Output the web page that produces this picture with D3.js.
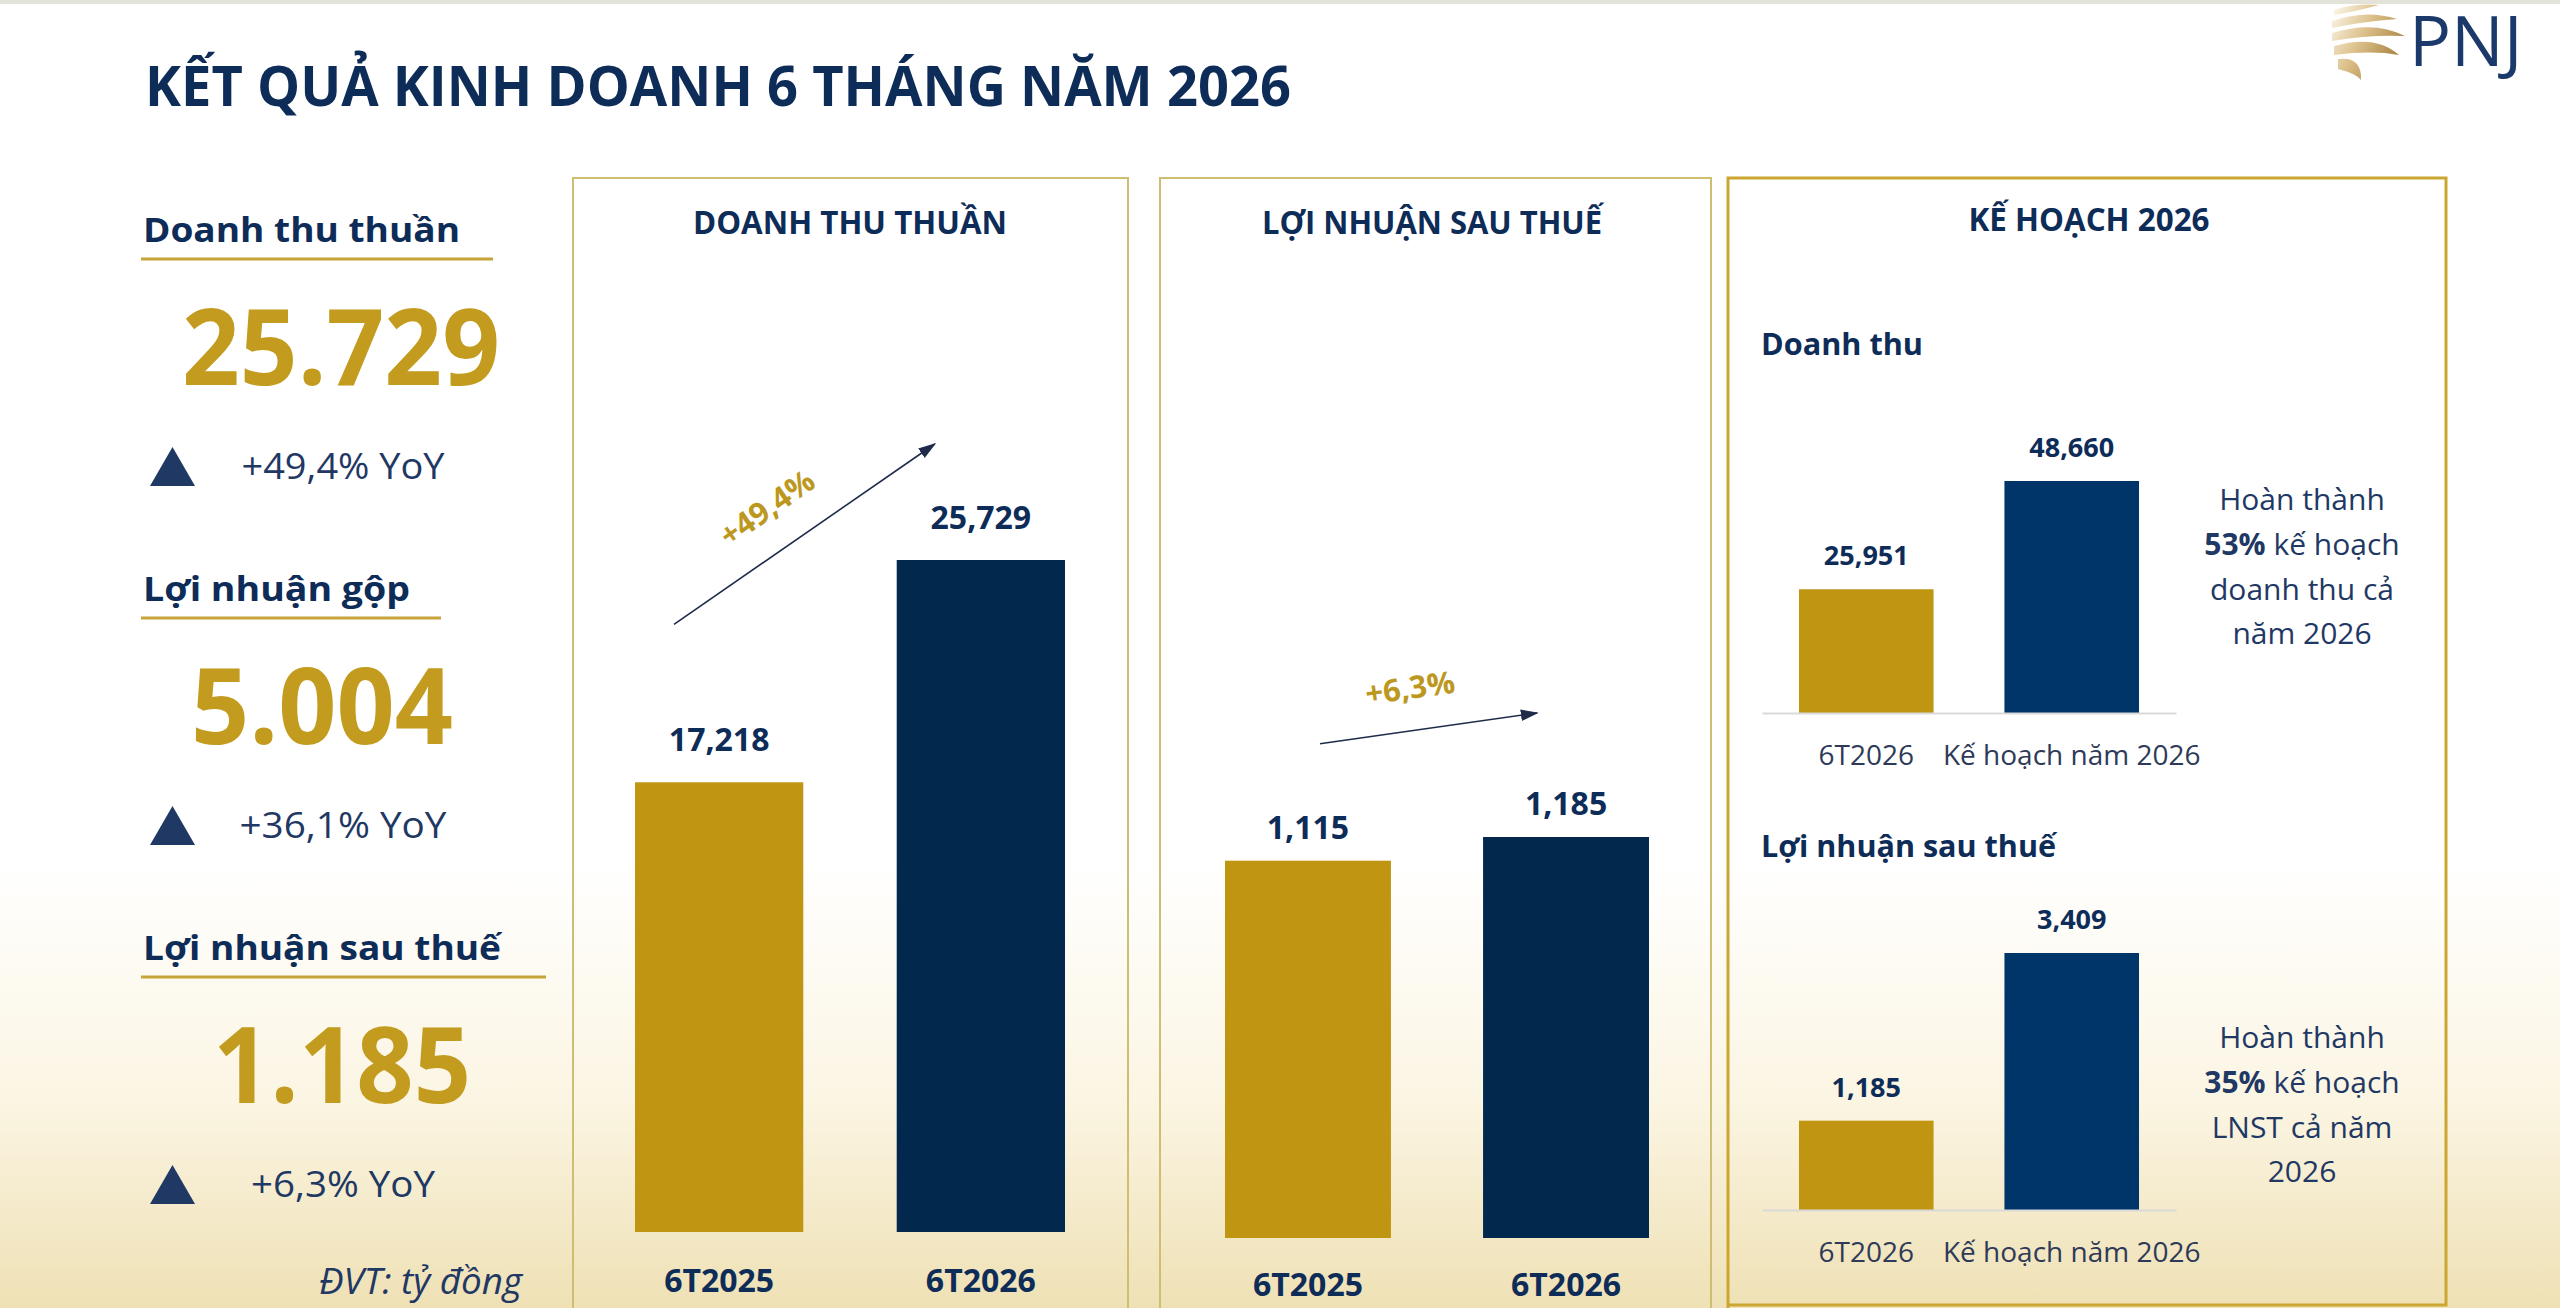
<!DOCTYPE html>
<html>
<head>
<meta charset="utf-8">
<script src="https://cdn.jsdelivr.net/npm/d3@7"></script>
<style>
  html, body { margin: 0; padding: 0; background: #fff; }
  svg { display: block; }
  text { font-family: "Open Sans", "Noto Sans", sans-serif; }
</style>
</head>
<body>
<div id="chart"></div>
<script>
// ---- data ----
const categories = ["6T2025", "6T2026"];
const revenue = [17218, 25729];
const netProfit = [1115, 1185];
const growthLabels = ["+49,4%", "+6,3%"];

const planCategories = ["6T2026", "Kế hoạch năm 2026"];
const planRevenue = [25951, 48660];
const planProfit = [1185, 3409];
const planShare = ["53%", "35%"];
const planNotes = [
  ["Hoàn thành", " kế hoạch", "doanh thu cả", "năm 2026"],
  ["Hoàn thành", " kế hoạch", "LNST cả năm", "2026"]
];

const summaryLabels = ["Doanh thu thuần", "Lợi nhuận gộp", "Lợi nhuận sau thuế"];
const summaryValues = ["25.729", "5.004", "1.185"];
const summaryGrowth = ["+49,4% YoY", "+36,1% YoY", "+6,3% YoY"];

// ---- colours ----
const GOLD = "#C09512";
const NAVY = "#02284E";
const NAVY_PLAN = "#00356A";
const TEXT_NAVY = "#0E2C58";
const SOFT_NAVY = "#1F3864";

const W = 2560, H = 1308;

const svg = d3.select("#chart").append("svg")
  .attr("width", W)
  .attr("height", H);

const defs = svg.append("defs");

// background: white fading to pale gold at the bottom
const bg = defs.append("linearGradient")
  .attr("id", "bgGrad")
  .attr("x1", 0).attr("y1", 0).attr("x2", 0).attr("y2", 1);
bg.append("stop").attr("offset", 0.66).attr("stop-color", "#FFFFFF");
bg.append("stop").attr("offset", 0.84).attr("stop-color", "#FBF5E3");
bg.append("stop").attr("offset", 1).attr("stop-color", "#EFE1B5");

svg.append("rect")
  .attr("width", W).attr("height", H)
  .attr("fill", "url(#bgGrad)");

svg.append("rect")
  .attr("width", W).attr("height", 4)
  .attr("fill", "#E3E3DA");

defs.append("marker")
  .attr("id", "arrowhead")
  .attr("viewBox", "0 0 10 10")
  .attr("refX", 9).attr("refY", 5)
  .attr("markerWidth", 18).attr("markerHeight", 18)
  .attr("markerUnits", "userSpaceOnUse")
  .attr("orient", "auto")
  .append("path")
  .attr("d", "M0,1.8 L10,5 L0,8.2 z")
  .attr("fill", "#1E2B4A");

// squeeze text to the width it has in the slide
function fit(sel, w) {
  sel.attr("textLength", w).attr("lengthAdjust", "spacingAndGlyphs");
  return sel;
}

// ---- title + logo ----
fit(svg.append("text")
  .attr("x", 145).attr("y", 106)
  .attr("font-size", 55)
  .attr("font-weight", 700)
  .attr("fill", TEXT_NAVY)
  .text("KẾT QUẢ KINH DOANH 6 THÁNG NĂM 2026"), 1146);

const logo = svg.append("g");
const logoGrad = defs.append("linearGradient")
  .attr("id", "logoGrad")
  .attr("gradientUnits", "userSpaceOnUse")
  .attr("x1", 2328).attr("y1", 20).attr("x2", 2402).attr("y2", 60);
logoGrad.append("stop").attr("offset", 0).attr("stop-color", "#FBF5E6");
logoGrad.append("stop").attr("offset", 0.45).attr("stop-color", "#DCC08A");
logoGrad.append("stop").attr("offset", 1).attr("stop-color", "#A27A36");
// fan blades: start point, tip, bend of the curve, thickness
const blades = [
  { p: [2334, 10], t: [2379, 5], c: [2356, 3], w: 5 },
  { p: [2332, 21], t: [2397, 19], c: [2366, 9], w: 7 },
  { p: [2332, 33], t: [2405, 36], c: [2374, 20], w: 8 },
  { p: [2334, 46], t: [2399, 55], c: [2376, 34], w: 9 },
  { p: [2338, 59], t: [2361, 80], c: [2362, 56], w: 10 }
];
logo.selectAll("path.blade")
  .data(blades)
  .join("path")
  .attr("class", "blade")
  .attr("d", b => `M${b.p[0]},${b.p[1]} Q${b.c[0]},${b.c[1]} ${b.t[0]},${b.t[1]}
      Q${b.c[0] - b.w * 0.5},${b.c[1] + b.w * 1.8} ${b.p[0]},${b.p[1] + b.w} Z`)
  .attr("fill", "url(#logoGrad)");
logo.append("text")
  .attr("x", 2409).attr("y", 66)
  .attr("font-family", "'Liberation Serif', 'DejaVu Serif', serif")
  .attr("font-size", 70)
  .attr("fill", "#1B3A6B")
  .text("PNJ");

// ---- left summary column ----
const summaryBase = [242, 601, 960];
const summaryUnderline = [352, 300, 405];
const summaryValueX = [341, 322, 342];
const summaryValueW = [318, 262, 258];
const summaryLabelW = [317, 267, 358];
const summaryGrowthW = [203, 207, 184];

const left = svg.append("g");
summaryLabels.forEach((lab, i) => {
  const b = summaryBase[i];
  fit(left.append("text")
    .attr("x", 143).attr("y", b)
    .attr("font-size", 34).attr("font-weight", 700)
    .attr("fill", TEXT_NAVY)
    .text(lab), summaryLabelW[i]);
  left.append("line")
    .attr("x1", 141).attr("x2", 141 + summaryUnderline[i])
    .attr("y1", b + 17).attr("y2", b + 17)
    .attr("stroke", "#C6A43A").attr("stroke-width", 3);
  fit(left.append("text")
    .attr("x", summaryValueX[i]).attr("y", b + 143)
    .attr("text-anchor", "middle")
    .attr("font-size", 106).attr("font-weight", 700)
    .attr("fill", "#C39B1E")
    .text(summaryValues[i]), summaryValueW[i]);
  const ty = b + 205;
  left.append("path")
    .attr("d", `M150,${ty + 39} L172.5,${ty} L195,${ty + 39} Z`)
    .attr("fill", SOFT_NAVY);
  fit(left.append("text")
    .attr("x", 343).attr("y", b + 237)
    .attr("text-anchor", "middle")
    .attr("font-size", 37)
    .attr("fill", SOFT_NAVY)
    .text(summaryGrowth[i]), summaryGrowthW[i]);
});

fit(left.append("text")
  .attr("x", 319).attr("y", 1294)
  .attr("font-size", 37).attr("font-style", "italic")
  .attr("fill", SOFT_NAVY)
  .text("ĐVT: tỷ đồng"), 203);

// ---- panel frames ----
const frames = [
  { x0: 573, x1: 1128, stroke: "#CDBE72", sw: 2, bottom: null },
  { x0: 1160, x1: 1711, stroke: "#CDBE72", sw: 2, bottom: null },
  { x0: 1728, x1: 2446, stroke: "#CBA630", sw: 3, bottom: 1305 }
];
svg.selectAll("path.frame")
  .data(frames)
  .join("path")
  .attr("class", "frame")
  .attr("d", f => f.bottom
    ? `M${f.x0},${H + 5} V178 H${f.x1} V${f.bottom} H${f.x0} V${H + 5}`
    : `M${f.x0},${H + 5} V178 H${f.x1} V${H + 5}`)
  .attr("fill", "none")
  .attr("stroke", d => d.stroke)
  .attr("stroke-width", d => d.sw);

const panelTitles = [
  { text: "DOANH THU THUẦN", x: 850, y: 234, w: 314 },
  { text: "LỢI NHUẬN SAU THUẾ", x: 1432, y: 234, w: 340 },
  { text: "KẾ HOẠCH 2026", x: 2089, y: 231, w: 241 }
];
panelTitles.forEach(t => {
  fit(svg.append("text")
    .attr("x", t.x).attr("y", t.y)
    .attr("text-anchor", "middle")
    .attr("font-size", 32).attr("font-weight", 700)
    .attr("fill", TEXT_NAVY)
    .text(t.text), t.w);
});

// ---- year-on-year bar panels ----
function yoyPanel(values, cfg) {
  const g = svg.append("g");
  const x = d3.scaleBand()
    .domain(categories)
    .range(cfg.xRange)
    .paddingInner(0.357)
    .paddingOuter(0);
  const y = d3.scaleLinear()
    .domain([0, d3.max(values)])
    .range([cfg.base, cfg.top]);
  const data = categories.map((c, i) => ({ c, v: values[i], i }));

  g.selectAll("rect.bar")
    .data(data)
    .join("rect")
    .attr("class", "bar")
    .attr("x", d => x(d.c))
    .attr("y", d => y(d.v))
    .attr("width", x.bandwidth())
    .attr("height", d => y(0) - y(d.v))
    .attr("fill", d => d.i === 0 ? GOLD : NAVY);

  g.selectAll("text.val")
    .data(data)
    .join("text")
    .attr("class", "val")
    .attr("x", d => x(d.c) + x.bandwidth() / 2)
    .attr("y", d => y(d.v) - cfg.labelGap)
    .attr("text-anchor", "middle")
    .attr("font-size", 32).attr("font-weight", 700)
    .attr("fill", TEXT_NAVY)
    .text(d => d3.format(",")(d.v));

  const axis = g.append("g")
    .attr("transform", `translate(0,${cfg.base})`)
    .call(d3.axisBottom(x).tickSize(0));
  axis.select(".domain").remove();
  axis.selectAll("text")
    .attr("dy", null)
    .attr("y", cfg.catOffset)
    .attr("font-family", "'Open Sans', 'Noto Sans', sans-serif")
    .attr("font-size", 32).attr("font-weight", 700)
    .attr("fill", TEXT_NAVY);

  // growth arrow between the two bars
  const a = cfg.arrow;
  const x1 = x(categories[0]) + a.dx0, y1 = y(values[0]) - a.dy0;
  const x2 = x(categories[1]) + a.dx1, y2 = y(values[1]) - a.dy1;
  g.append("line")
    .attr("x1", x1).attr("y1", y1)
    .attr("x2", x2).attr("y2", y2)
    .attr("stroke", "#1E2B4A").attr("stroke-width", 1.6)
    .attr("marker-end", "url(#arrowhead)");
  g.append("text")
    .attr("transform", `translate(${a.tx},${a.ty}) rotate(${a.rot})`)
    .attr("text-anchor", "middle")
    .attr("dy", "0.35em")
    .attr("font-size", 31).attr("font-weight", 700)
    .attr("fill", "#BC981F")
    .text(cfg.growth);
}

yoyPanel(revenue, {
  xRange: [635, 1065], base: 1232, top: 560, labelGap: 31, catOffset: 60,
  growth: growthLabels[0],
  arrow: { dx0: 39, dy0: 158, dx1: 38, dy1: 116, tx: 767, ty: 508, rot: -35 }
});
yoyPanel(netProfit, {
  xRange: [1225, 1649], base: 1238, top: 837, labelGap: 22, catOffset: 58,
  growth: growthLabels[1],
  arrow: { dx0: 95, dy0: 117, dx1: 54, dy1: 124, tx: 1410, ty: 688, rot: -8 }
});

// ---- plan panel ----
function planChart(values, cfg) {
  const g = svg.append("g");
  fit(g.append("text")
    .attr("x", 1761).attr("y", cfg.subY)
    .attr("font-size", 31).attr("font-weight", 700)
    .attr("fill", TEXT_NAVY)
    .text(cfg.sub), cfg.subW);

  const x = d3.scaleBand()
    .domain(planCategories)
    .range([1762, 2176])
    .paddingInner(0.345)
    .paddingOuter(0.18);
  const y = d3.scaleLinear()
    .domain([0, d3.max(values)])
    .range([cfg.base, cfg.top]);
  const data = planCategories.map((c, i) => ({ c, v: values[i], i }));

  g.selectAll("rect.bar")
    .data(data)
    .join("rect")
    .attr("class", "bar")
    .attr("x", d => x(d.c))
    .attr("y", d => y(d.v))
    .attr("width", x.bandwidth())
    .attr("height", d => y(0) - y(d.v))
    .attr("fill", d => d.i === 0 ? GOLD : NAVY_PLAN);

  g.selectAll("text.val")
    .data(data)
    .join("text")
    .attr("class", "val")
    .attr("x", d => x(d.c) + x.bandwidth() / 2)
    .attr("y", d => y(d.v) - 24)
    .attr("text-anchor", "middle")
    .attr("font-size", 27).attr("font-weight", 700)
    .attr("fill", TEXT_NAVY)
    .text(d => d3.format(",")(d.v));

  const axis = g.append("g")
    .attr("transform", `translate(0,${cfg.base})`)
    .call(d3.axisBottom(x).tickSize(0).tickSizeOuter(0));
  axis.select(".domain")
    .attr("stroke", "#D9D9D9").attr("stroke-width", 2);
  axis.selectAll("text")
    .attr("dy", null)
    .attr("y", 52)
    .attr("font-family", "'Open Sans', 'Noto Sans', sans-serif")
    .attr("font-size", 28)
    .attr("fill", "#2E3A58");

  // completion note at the right
  const note = g.append("text")
    .attr("text-anchor", "middle")
    .attr("font-size", 30)
    .attr("fill", SOFT_NAVY);
  cfg.lines.forEach((line, k) => {
    const t = note.append("tspan")
      .attr("x", 2302)
      .attr("y", cfg.noteY + k * 44.8);
    if (k === 1) {
      t.append("tspan").attr("font-weight", 700).text(cfg.share);
      t.append("tspan").text(line);
    } else {
      t.text(line);
    }
  });
}

planChart(planRevenue, {
  sub: "Doanh thu", subY: 355, subW: 162,
  base: 713, top: 481,
  share: planShare[0], lines: planNotes[0], noteY: 510
});
planChart(planProfit, {
  sub: "Lợi nhuận sau thuế", subY: 857, subW: 295,
  base: 1210, top: 953,
  share: planShare[1], lines: planNotes[1], noteY: 1048
});
</script>
</body>
</html>
